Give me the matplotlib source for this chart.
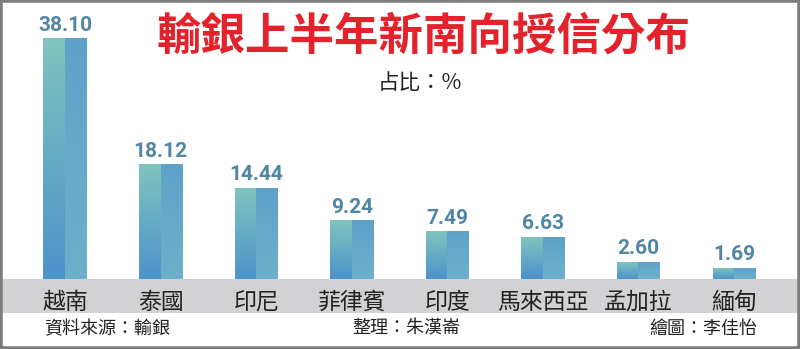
import numpy as np
import matplotlib
matplotlib.use("Agg")
import matplotlib.pyplot as plt
from matplotlib.colors import LinearSegmentedColormap
from matplotlib.patches import Rectangle

# --- data ---
countries = ["越南", "泰國", "印尼", "菲律賓", "印度", "馬來西亞", "孟加拉", "緬甸"]
shares = [38.10, 18.12, 14.44, 9.24, 7.49, 6.63, 2.60, 1.69]
title = "輸銀上半年新南向授信分布"
unit_note = "占比：%"
source_note = "資料來源：輸銀"
editor_note = "整理：朱漢崙"
artist_note = "繪圖：李佳怡"

CJK = ["Noto Sans CJK TC", "DejaVu Sans"]
W, H = 800, 349

fig = plt.figure(figsize=(W / 100, H / 100), dpi=100)
fig.patch.set_facecolor("white")

# grey band behind category labels
fig.add_artist(Rectangle((0, 36 / H), 1, 34 / H, transform=fig.transFigure,
                         facecolor="#d2d2d4", edgecolor="none", zorder=0))

ax = fig.add_axes([0, 70 / H, 1, 279 / H])
ax.set_facecolor("none")
x = np.arange(len(countries))
bw = 0.45
ax.axis("off")

left_cmap = LinearSegmentedColormap.from_list("l", ["#4c93cb", "#80c3be"])
right_cmap = LinearSegmentedColormap.from_list("r", ["#6db0cb", "#5fa2c9"])
grad = np.linspace(0, 1, 100).reshape(-1, 1)

for xi, v in zip(x, shares):
    ax.imshow(grad, cmap=left_cmap, origin="lower", aspect="auto",
              extent=(xi - bw / 2, xi, 0, v), interpolation="bilinear")
    ax.imshow(grad, cmap=right_cmap, origin="lower", aspect="auto",
              extent=(xi, xi + bw / 2, 0, v), interpolation="bilinear")
    ax.annotate(f"{v:.2f}", (xi, v), xytext=(0, 3), textcoords="offset points",
                ha="center", va="bottom", fontsize=15, fontweight="semibold",
                color="#5086a3", family=["Roboto", "DejaVu Sans"])
ax.set_xlim(-0.68, 7.69)
ax.set_ylim(0, 44.29)

# category labels in band
for xi, name in zip(x, countries):
    ax.annotate(name, (xi, 0), xytext=(0, -17), textcoords="offset points",
                ha="center", va="center", fontsize=16.5, color="#222222", family=CJK)

fig.text(424 / W, 1 - 37 / H, title, ha="center", va="center", fontsize=32,
         fontweight="bold", color="#e3222b", family=CJK)
fig.text(420 / W, 1 - 83 / H, unit_note, ha="center", va="center", fontsize=15.5,
         color="#222222", family=CJK)

fy = 1 - 329 / H
fig.text(44 / W, fy, source_note, ha="left", va="center", fontsize=13, color="#222222", family=CJK)
fig.text(352 / W, fy, editor_note, ha="left", va="center", fontsize=13, color="#222222", family=CJK)
fig.text(757 / W, fy, artist_note, ha="right", va="center", fontsize=13, color="#222222", family=CJK)

# outer border
fig.add_artist(Rectangle((0, 0), 1, 1, transform=fig.transFigure, facecolor="none",
                         edgecolor="#7c7c7c", linewidth=4, zorder=10))

fig.savefig("out.png", dpi=100)
